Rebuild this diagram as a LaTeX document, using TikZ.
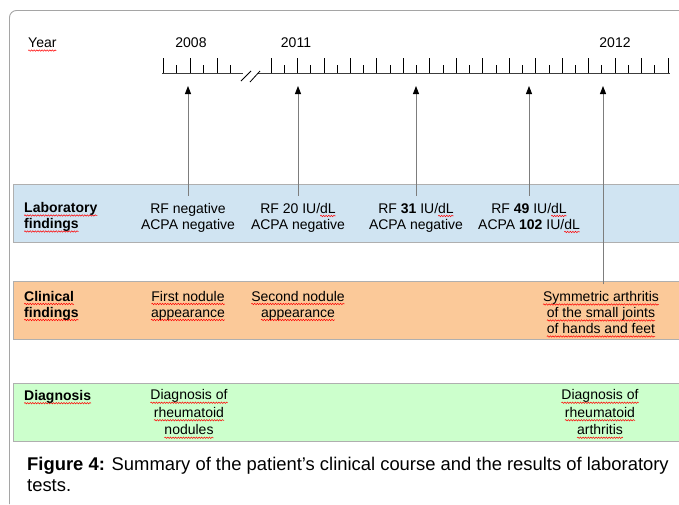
\documentclass[tikz,border=0pt]{standalone}
\usepackage{fontspec}
\setmainfont{Liberation Sans}
\usepackage{xcolor}
\usepackage{tikz}
\usetikzlibrary{arrows.meta, decorations.pathmorphing}
\definecolor{labBlue}{RGB}{208, 228, 242}
\definecolor{clinOrange}{RGB}{251, 201, 153}
\definecolor{diagGreen}{RGB}{204, 255, 204}
\definecolor{bandGray}{RGB}{175, 175, 175}
\definecolor{arrGray}{RGB}{125, 125, 125}
\definecolor{frameGray}{RGB}{165, 165, 165}
\definecolor{axisGray}{RGB}{60, 60, 60}
% red wavy underline
\newsavebox\swbox
\newlength\swlen
\newcommand\sw[1]{\sbox\swbox{#1}\setlength\swlen{\wd\swbox}\leavevmode\rlap{\tikz[baseline=0pt, x=1pt, y=1pt, overlay]\draw[red, line width=0.5pt, decorate, decoration={snake, amplitude=0.7pt, segment length=2.6pt}] (0pt,-2.8pt) -- (\the\swlen,-2.8pt);}\usebox\swbox}

\begin{document}
\begin{tikzpicture}[x=1pt, y=-1pt,
    band/.style={draw=bandGray, line width=0.8pt},
    struts/.style={execute at begin node=\strut, execute at end node=\strut},
    rowlabel/.style={struts, anchor=west, align=left, inner sep=0pt, font=\fontsize{14}{16}\selectfont\bfseries},
    finding/.style={struts, align=center, inner sep=7pt, font=\fontsize{14}{16}\selectfont},
    upArrow/.style={arrGray, line width=0.9pt, -{Triangle[length=8pt, width=6pt, color=black]}}]
  \useasboundingbox (0,0) rectangle (679,504);

  % Frame
  \draw[frameGray, line width=0.9pt, rounded corners=7pt] (9.5,504) |- (679,10.5);

  % Bands
  \fill[labBlue] (13,184) rectangle (679,242);
  \draw[band] (679,184) -| (13,242) -- (679,242);
  \fill[clinOrange] (13,281) rectangle (679,339);
  \draw[band] (679,281) -| (13,339) -- (679,339);
  \fill[diagGreen] (13,383) rectangle (679,441);
  \draw[band] (679,383) -| (13,441) -- (679,441);

  % Year axis
  \node[anchor=west, inner sep=0pt, font=\fontsize{14}{16}\selectfont] (year) at (28,43) {\sw{Year}};
  \node[font=\fontsize{14}{16}\selectfont] (y2008) at (191,43) {2008};
  \node[font=\fontsize{14}{16}\selectfont] (y2011) at (296,43) {2011};
  \node[font=\fontsize{14}{16}\selectfont] (y2012) at (615,43) {2012};

  \draw[axisGray, line width=0.8pt] (162,73) -- (243,73);
  \draw[axisGray, line width=0.8pt] (258,73) -- (670,73);
  \foreach \i in {0,...,5} {
      \ifodd\i
          \draw[black, line width=0.8pt] (163+13.5*\i,73) -- (163+13.5*\i,65);
      \else
          \draw[black, line width=0.8pt] (163+13.5*\i,73) -- (163+13.5*\i,58);
      \fi
  }
  \foreach \i in {0,...,30} {
      \ifodd\i
          \draw[black, line width=0.8pt] (271+13.233*\i,73) -- (271+13.233*\i,65);
      \else
          \draw[black, line width=0.8pt] (271+13.233*\i,73) -- (271+13.233*\i,58);
      \fi
  }
  % Axis break
  \draw[black, line width=0.8pt] (241,81) -- (251,71);
  \draw[black, line width=0.8pt] (250,82) -- (260,71);

  % Arrow tips on the axis
  \coordinate (t1) at (188,86);
  \coordinate (t2) at (298,86);
  \coordinate (t3) at (416,86);
  \coordinate (t4) at (529,86);
  \coordinate (t5) at (603,86);

  % Laboratory findings
  \node[rowlabel] (labL) at (24,218) {\sw{Laboratory}\\\sw{findings}};
  \node[finding] (lab1) at (188,218.5) {RF negative\\ACPA negative};
  \node[finding] (lab2) at (298,218.5) {RF 20 IU/\sw{dL}\\ACPA negative};
  \node[finding] (lab3) at (416,218.5) {RF \textbf{31} IU/\sw{dL}\\ACPA negative};
  \node[finding] (lab4) at (529,218.5) {RF \textbf{49} IU/\sw{dL}\\ACPA \textbf{102} IU/\sw{dL}};

  % Clinical findings
  \node[rowlabel] (clinL) at (24,306.5) {\sw{Clinical}\\\sw{findings}};
  \node[finding] (clin1) at (188,306.5) {\sw{First nodule}\\\sw{appearance}};
  \node[finding] (clin2) at (298,306.5) {\sw{Second nodule}\\\sw{appearance}};
  \node[finding] (sym) at (601,315) {\sw{Symmetric arthritis}\\\sw{of the small joints}\\\sw{of hands and feet}};

  % Diagnosis
  \node[rowlabel, anchor=north west] (diagL) at (24,389) {\sw{Diagnosis}};
  \node[finding, font=\fontsize{14}{17.5}\selectfont] (diag1) at (189,415) {\sw{Diagnosis of}\\\sw{rheumatoid}\\\sw{nodules}};
  \node[finding, font=\fontsize{14}{17.5}\selectfont] (diag2) at (600,415) {\sw{Diagnosis of}\\\sw{rheumatoid}\\\sw{arthritis}};

  % Arrows
  \draw[upArrow] (lab1.north) -- (t1);
  \draw[upArrow] (lab2.north) -- (t2);
  \draw[upArrow] (lab3.north) -- (t3);
  \draw[upArrow] (lab4.north) -- (t4);
  \draw[upArrow] (sym.north -| t5) -- (t5);

  % Caption
  \node[anchor=north west, align=left, inner sep=0pt, font=\fontsize{18.4}{21}\selectfont] (caption) at (27,457)
      {\textbf{Figure 4:} Summary of the patient’s clinical course and the results of laboratory\\tests.};
\end{tikzpicture}
\end{document}
